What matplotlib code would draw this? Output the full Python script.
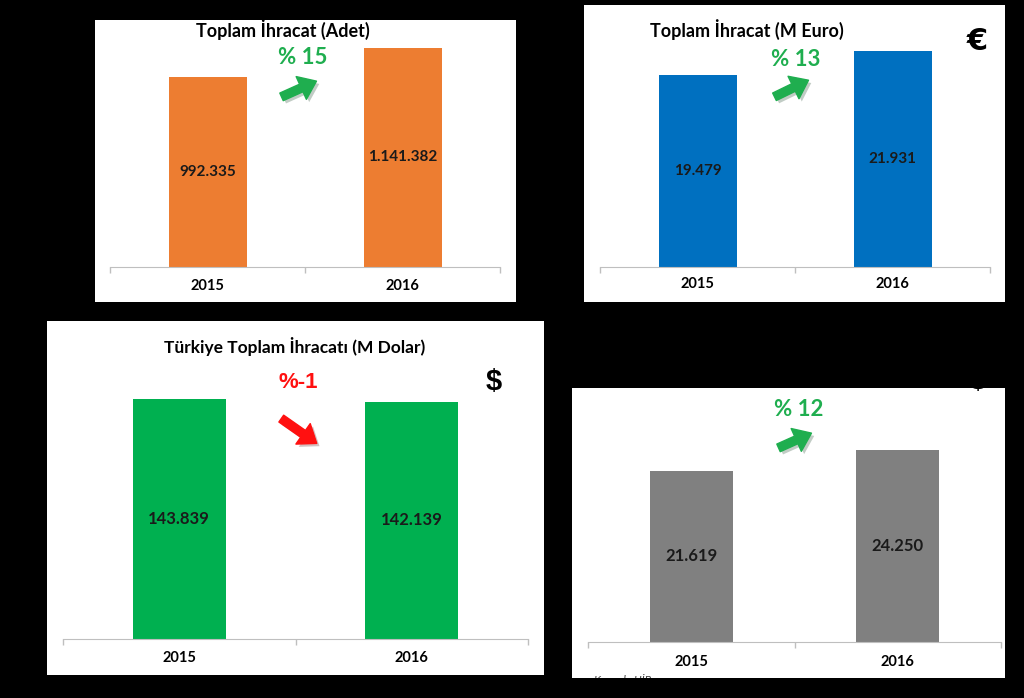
import matplotlib
matplotlib.use("Agg")
import matplotlib.pyplot as plt
import matplotlib.patheffects as pe
from matplotlib.patches import Rectangle, FancyArrowPatch

W, H = 1024, 698

years = ["2015", "2016"]

adet = [992335, 1141382]
adet_labels = ["992.335", "1.141.382"]
euro = [19479, 21931]
euro_labels = ["19.479", "21.931"]
dolar = [143839, 142139]
dolar_labels = ["143.839", "142.139"]
uib = [21619, 24250]
uib_labels = ["21.619", "24.250"]

FONT = "Lato"

fig = plt.figure(figsize=(W / 100, H / 100), dpi=100, facecolor="black")


def fx(x):
    return x / W


def fy(y):
    return 1 - y / H


def panel(x0, y0, x1, y1):
    r = Rectangle((fx(x0), fy(y1)), (x1 - x0) / W, (y1 - y0) / H,
                  transform=fig.transFigure, facecolor="white",
                  edgecolor="none", zorder=-1)
    fig.add_artist(r)
    return r


def bar_panel(x0, y0, x1, y1, values, labels, color, ymax, lsize=11, ypad=9):
    ax = fig.add_axes([fx(x0), fy(y1), (x1 - x0) / W, (y1 - y0) / H])
    ax.patch.set_visible(False)
    x = list(range(len(values)))
    ax.bar(x, values, width=0.4, color=color, zorder=2)
    ax.set_xlim(-0.5, 1.5)
    ax.set_ylim(0, ymax)
    for xi, v, lab in zip(x, values, labels):
        ax.text(xi, v / 2, lab, ha="center", va="center", fontsize=lsize,
                fontweight="bold", color="#1a1a1a", family=FONT, zorder=3)
    ax.set_xticks(x)
    ax.set_xticklabels(years, fontweight="bold", fontsize=10.5, family=FONT)
    ax.tick_params(axis="x", which="major", length=0, pad=ypad)
    ax.set_xticks([-0.5, 0.5, 1.5], minor=True)
    ax.tick_params(axis="x", which="minor", length=4, color="#bfbfbf", width=1)
    ax.set_yticks([])
    for s in ["top", "left", "right"]:
        ax.spines[s].set_visible(False)
    ax.spines["bottom"].set_color("#bfbfbf")
    return ax


def arrow(xa, ya, xb, yb, color):
    a = FancyArrowPatch((fx(xa), fy(ya)), (fx(xb), fy(yb)),
                        transform=fig.transFigure,
                        arrowstyle="simple,head_width=1.8,head_length=1.2,tail_width=0.6",
                        mutation_scale=10, color=color, zorder=5,
                        path_effects=[pe.withSimplePatchShadow(offset=(2, -2), alpha=0.25)])
    fig.add_artist(a)


def ftext(x, y, s, **kw):
    return fig.text(fx(x), fy(y), s, ha="center", va="center", zorder=6, **kw)


green = "#1fae4f"

# panel 1 - adet
panel(95, 20, 516, 302)
bar_panel(110, 20, 500, 267, adet, adet_labels, "#ED7D31", 1287300)
ftext(283, 30, "Toplam İhracat (Adet)", fontsize=13, fontweight="bold", family=FONT)
ftext(303, 57, "% 15", fontsize=16, fontweight="bold", color=green, family=FONT)
arrow(279, 98, 319, 80, green)

# panel 2 - euro
panel(584, 5, 1005, 302)
bar_panel(600, 5, 990, 267, euro, euro_labels, "#0070C0", 26600, ypad=7)
ftext(747, 30, "Toplam İhracat (M Euro)", fontsize=13, fontweight="bold", family=FONT)
ftext(796, 59, "% 13", fontsize=16, fontweight="bold", color=green, family=FONT)
ftext(977, 42, "€", fontsize=22, fontweight="bold", family="DejaVu Sans")
arrow(772, 98, 811, 79, green)

# panel 3 - dolar
panel(47, 321, 544, 675)
bar_panel(63, 321, 528, 639, dolar, dolar_labels, "#00B050", 190600, lsize=12)
ftext(295, 346, "Türkiye Toplam İhracatı (M Dolar)", fontsize=12.5, fontweight="bold", family=FONT)
ftext(298, 383, "%-1", fontsize=16, fontweight="bold", color="#ff1010", family="Liberation Sans")
ftext(494, 382, "$", fontsize=21, fontweight="bold", family="Liberation Sans")
arrow(279, 417, 319, 445, "#ff1010")

# panel 4 - uib
p4 = panel(572, 388, 1005, 678)
bar_panel(588, 388, 1001, 642, uib, uib_labels, "#808080", 32080, lsize=12)
ftext(799, 409, "% 12", fontsize=16, fontweight="bold", color=green, family=FONT)
ftext(978, 381, "$", fontsize=21, fontweight="bold", family="Liberation Sans")
arrow(776, 449, 814, 432, green)
src = fig.text(fx(594), fy(684), "Kaynak: UİB", fontsize=8, style="italic",
               color="#404040", family=FONT, zorder=6)
src.set_clip_path(p4)

fig.savefig("out.png", dpi=100, facecolor="black")
